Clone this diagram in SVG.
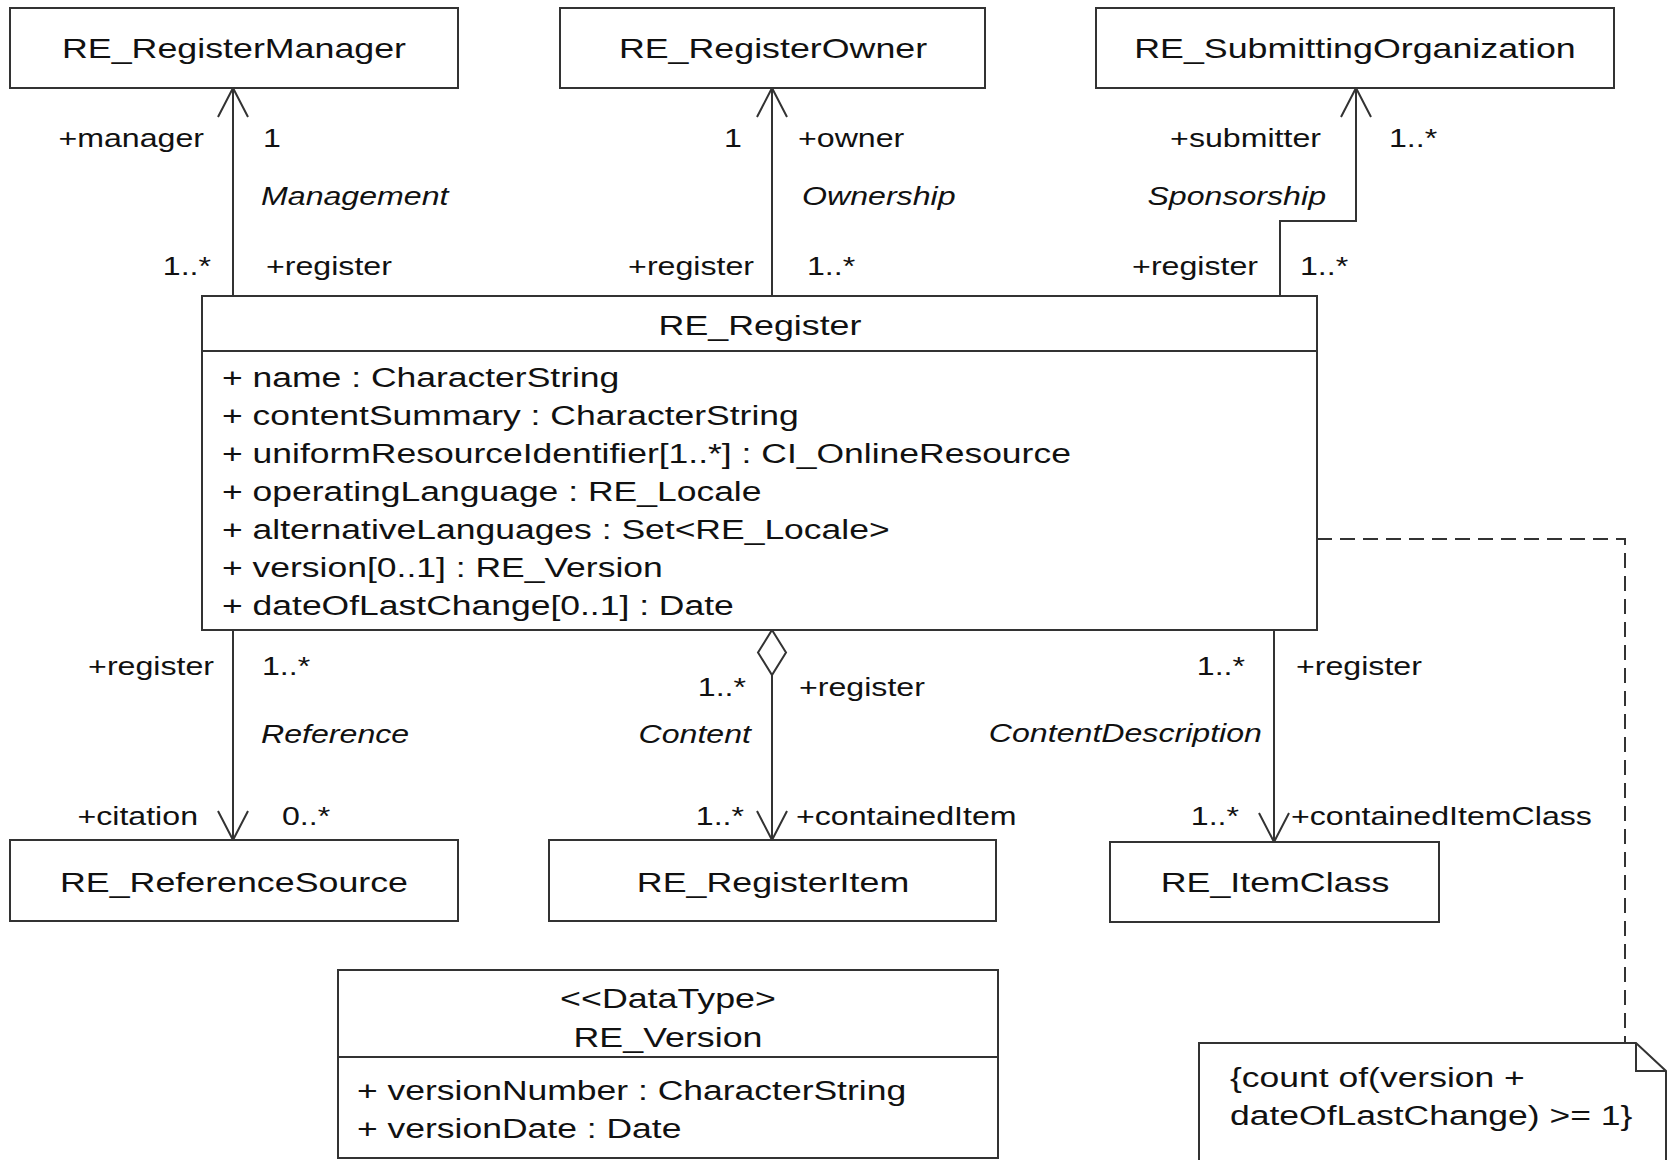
<svg xmlns="http://www.w3.org/2000/svg" width="1675" height="1160" viewBox="0 0 1675 1160">
<style>
  .box { fill: #ffffff; stroke: #333333; stroke-width: 2; }
  .sep { stroke: #333333; stroke-width: 2; }
  .conn { fill: none; stroke: #333333; stroke-width: 2; }
  .dash { fill: none; stroke: #333333; stroke-width: 2; stroke-dasharray: 15 8; }
  text { font-family: "Liberation Sans", Arial, sans-serif; fill: #111111; }
  .title { font-size: 28.4px; text-anchor: middle; }
  .attr { font-size: 28.4px; }
  .lbl { font-size: 25.5px; }
  .end { text-anchor: end; }
  .it { font-style: italic; }
</style>
<defs>
  <marker id="arrow" markerUnits="userSpaceOnUse" viewBox="-32 -17 34 34" markerWidth="34" markerHeight="34" refX="0" refY="0" orient="auto" overflow="visible">
    <path d="M-29,-15 L0,0 L-29,15" fill="none" stroke="#333333" stroke-width="2"/>
  </marker>
  <marker id="diamond" markerUnits="userSpaceOnUse" viewBox="-2 -16 49 32" markerWidth="49" markerHeight="32" refX="0" refY="0" orient="auto" overflow="visible">
    <path d="M0,0 L22.5,-14 L45,0 L22.5,14 Z" fill="#ffffff" stroke="#333333" stroke-width="2"/>
  </marker>
</defs>
<rect width="1675" height="1160" fill="#ffffff"/>

<g id="connectors">
  <g id="management">
    <path class="conn" d="M233,296 V88" marker-end="url(#arrow)"/>
    <text class="lbl end" transform="translate(204 147) scale(1.26 1)">+manager</text>
    <text class="lbl" transform="translate(263 147) scale(1.26 1)">1</text>
    <text class="lbl it" transform="translate(261 205) scale(1.26 1)">Management</text>
    <text class="lbl end" transform="translate(211 275) scale(1.26 1)">1..*</text>
    <text class="lbl" transform="translate(266 275) scale(1.26 1)">+register</text>
  </g>
  <g id="ownership">
    <path class="conn" d="M772,296 V88" marker-end="url(#arrow)"/>
    <text class="lbl end" transform="translate(742 147) scale(1.26 1)">1</text>
    <text class="lbl" transform="translate(798 147) scale(1.26 1)">+owner</text>
    <text class="lbl it" transform="translate(802 205) scale(1.26 1)">Ownership</text>
    <text class="lbl end" transform="translate(754 275) scale(1.26 1)">+register</text>
    <text class="lbl" transform="translate(807 275) scale(1.26 1)">1..*</text>
  </g>
  <g id="sponsorship">
    <path class="conn" d="M1280,296 V221 H1356 V88" marker-end="url(#arrow)"/>
    <text class="lbl end" transform="translate(1321 147) scale(1.26 1)">+submitter</text>
    <text class="lbl" transform="translate(1389 147) scale(1.26 1)">1..*</text>
    <text class="lbl it end" transform="translate(1326 205) scale(1.26 1)">Sponsorship</text>
    <text class="lbl end" transform="translate(1258 275) scale(1.26 1)">+register</text>
    <text class="lbl" transform="translate(1300 275) scale(1.26 1)">1..*</text>
  </g>
  <g id="reference">
    <path class="conn" d="M233,630 V840" marker-end="url(#arrow)"/>
    <text class="lbl end" transform="translate(214 675) scale(1.26 1)">+register</text>
    <text class="lbl" transform="translate(262 675) scale(1.26 1)">1..*</text>
    <text class="lbl it" transform="translate(261 743) scale(1.26 1)">Reference</text>
    <text class="lbl end" transform="translate(198 825) scale(1.26 1)">+citation</text>
    <text class="lbl" transform="translate(282 825) scale(1.26 1)">0..*</text>
  </g>
  <g id="content">
    <path class="conn" d="M772,630 V840" marker-start="url(#diamond)" marker-end="url(#arrow)"/>
    <text class="lbl end" transform="translate(746 696) scale(1.26 1)">1..*</text>
    <text class="lbl" transform="translate(799 696) scale(1.26 1)">+register</text>
    <text class="lbl it end" transform="translate(751 743) scale(1.26 1)">Content</text>
    <text class="lbl end" transform="translate(744 825) scale(1.26 1)">1..*</text>
    <text class="lbl" transform="translate(796 825) scale(1.26 1)">+containedItem</text>
  </g>
  <g id="contentDescription">
    <path class="conn" d="M1274,630 V842" marker-end="url(#arrow)"/>
    <text class="lbl end" transform="translate(1245 675) scale(1.26 1)">1..*</text>
    <text class="lbl" transform="translate(1296 675) scale(1.26 1)">+register</text>
    <text class="lbl it end" transform="translate(1262 742) scale(1.26 1)">ContentDescription</text>
    <text class="lbl end" transform="translate(1239 825) scale(1.26 1)">1..*</text>
    <text class="lbl" transform="translate(1291 825) scale(1.26 1)">+containedItemClass</text>
  </g>
  <path id="noteLink" class="dash" d="M1317,539 H1625 V1043"/>
</g>

<g id="RE_RegisterManager">
  <rect class="box" x="10" y="8" width="448" height="80"/>
  <text class="title" transform="translate(234 58) scale(1.26 1)">RE_RegisterManager</text>
</g>
<g id="RE_RegisterOwner">
  <rect class="box" x="560" y="8" width="425" height="80"/>
  <text class="title" transform="translate(773 58) scale(1.26 1)">RE_RegisterOwner</text>
</g>
<g id="RE_SubmittingOrganization">
  <rect class="box" x="1096" y="8" width="518" height="80"/>
  <text class="title" transform="translate(1355 58) scale(1.26 1)">RE_SubmittingOrganization</text>
</g>

<g id="RE_Register">
  <rect class="box" x="202" y="296" width="1115" height="334"/>
  <line class="sep" x1="202" y1="351" x2="1317" y2="351"/>
  <text class="title" transform="translate(760 335) scale(1.26 1)">RE_Register</text>
  <text class="attr" transform="translate(222 387) scale(1.25 1)">+ name : CharacterString</text>
  <text class="attr" transform="translate(222 425) scale(1.25 1)">+ contentSummary : CharacterString</text>
  <text class="attr" transform="translate(222 463) scale(1.25 1)">+ uniformResourceIdentifier[1..*] : CI_OnlineResource</text>
  <text class="attr" transform="translate(222 501) scale(1.25 1)">+ operatingLanguage : RE_Locale</text>
  <text class="attr" transform="translate(222 539) scale(1.25 1)">+ alternativeLanguages : Set&lt;RE_Locale&gt;</text>
  <text class="attr" transform="translate(222 577) scale(1.25 1)">+ version[0..1] : RE_Version</text>
  <text class="attr" transform="translate(222 615) scale(1.25 1)">+ dateOfLastChange[0..1] : Date</text>
</g>

<g id="RE_ReferenceSource">
  <rect class="box" x="10" y="840" width="448" height="81"/>
  <text class="title" transform="translate(234 892) scale(1.26 1)">RE_ReferenceSource</text>
</g>
<g id="RE_RegisterItem">
  <rect class="box" x="549" y="840" width="447" height="81"/>
  <text class="title" transform="translate(773 892) scale(1.26 1)">RE_RegisterItem</text>
</g>
<g id="RE_ItemClass">
  <rect class="box" x="1110" y="842" width="329" height="80"/>
  <text class="title" transform="translate(1275 892) scale(1.26 1)">RE_ItemClass</text>
</g>

<g id="RE_Version">
  <rect class="box" x="338" y="970" width="660" height="188"/>
  <line class="sep" x1="338" y1="1057" x2="998" y2="1057"/>
  <text class="title" transform="translate(668 1008) scale(1.26 1)">&lt;&lt;DataType&gt;</text>
  <text class="title" transform="translate(668 1047) scale(1.26 1)">RE_Version</text>
  <text class="attr" transform="translate(357 1100) scale(1.25 1)">+ versionNumber : CharacterString</text>
  <text class="attr" transform="translate(357 1138) scale(1.25 1)">+ versionDate : Date</text>
</g>

<g id="note">
  <path class="box" d="M1199,1170 V1043 H1636 L1666,1071 V1170 Z"/>
  <path class="conn" d="M1636,1043 V1071 H1666"/>
  <text class="attr" transform="translate(1230 1087) scale(1.25 1)">{count of(version +</text>
  <text class="attr" transform="translate(1230 1125) scale(1.25 1)">dateOfLastChange) &gt;= 1}</text>
</g>
</svg>
